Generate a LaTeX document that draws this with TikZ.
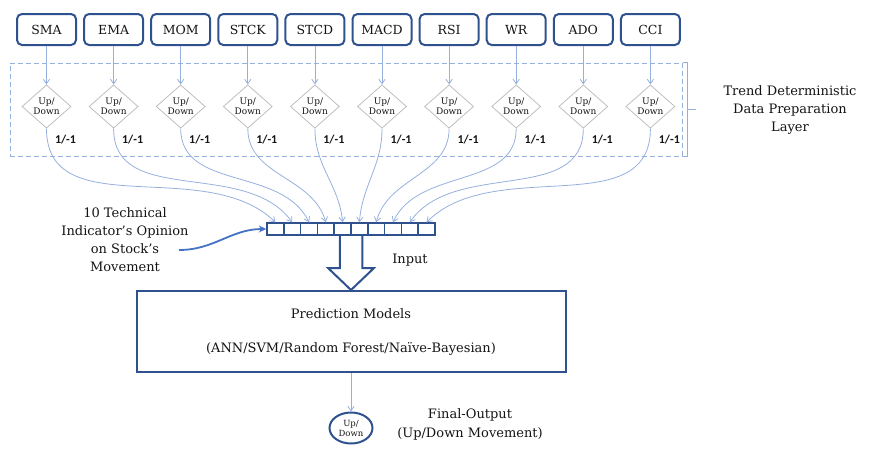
\documentclass[tikz,border=0pt]{standalone}
\usepackage{fontspec}
\setmainfont{DejaVu Serif}
\newfontfamily\voteFont{Carlito}
\usetikzlibrary{arrows.meta,positioning,shapes.geometric,calc}
\definecolor{trendDarkBlue}{RGB}{47,82,143}
\definecolor{trendBlue}{RGB}{68,114,196}
\definecolor{trendLightBlue}{RGB}{150,176,222}
\definecolor{trendGray}{RGB}{190,190,190}
\definecolor{trendText}{RGB}{20,20,20}

\begin{document}
\begin{tikzpicture}[
  x=1pt, y=1pt,
  indicator/.style={
    draw=trendDarkBlue,
    line width=2pt,
    rounded corners=5pt,
    minimum width=59pt,
    minimum height=31pt,
    inner sep=0pt,
    text=trendText,
    font=\fontsize{12.5}{14}\selectfont
  },
  decision/.style={
    diamond,
    draw=trendGray,
    line width=0.8pt,
    minimum width=49pt,
    minimum height=43pt,
    inner sep=0pt,
    align=center,
    text=trendText,
    font=\fontsize{9}{10.5}\selectfont
  },
  vote/.style={text=trendText,font=\voteFont\bfseries\fontsize{12}{14}\selectfont},
  cell/.style={draw=trendDarkBlue,line width=1.5pt,minimum width=16.8pt,minimum height=12pt,inner sep=0pt},
  model/.style={
    draw=trendDarkBlue,
    line width=2pt,
    minimum width=429pt,
    minimum height=81pt,
    align=center,
    text=trendText,
    font=\fontsize{13}{16}\selectfont
  },
  result/.style={
    ellipse,
    draw=trendDarkBlue,
    line width=2pt,
    minimum width=43pt,
    minimum height=31pt,
    inner sep=0pt,
    align=center,
    text=trendText,
    font=\fontsize{8.5}{10}\selectfont
  },
  caption/.style={align=center,text=trendText,font=\fontsize{13}{18}\selectfont},
  layer/.style={draw=trendLightBlue,dash pattern=on 5pt off 3pt,line width=1pt,minimum width=672pt,minimum height=93pt},
  arrow/.style={-{Straight Barb[length=1.6mm,width=2.2mm]},trendLightBlue,line width=0.8pt},
  opinion/.style={-{Stealth[length=2.6mm,width=2.4mm]},trendBlue,line width=1.8pt},
  hollow/.style={draw=trendDarkBlue,line width=2pt,line join=miter}
]
  \useasboundingbox (0,0) rectangle (872,-461);

  % data preparation layer
  \node[layer] (layer) at (346,-109.5) {};
  \draw[trendLightBlue,line width=1pt] (layer.north east) -- ++(5,0) |- (layer.south east);
  \draw[trendLightBlue,line width=1pt] ($(layer.east)+(5,0)$) -- ++(8,0);
  \node[caption] (layerText) at (790,-110) {Trend Deterministic\\Data Preparation\\Layer};

  % indicators and their up/down opinion
  \foreach \abbr [count=\i] in {SMA,EMA,MOM,STCK,STCD,MACD,RSI,WR,ADO,CCI}{
    \node[indicator] (ind\i) at ({46.5+67.1*(\i-1)},-29.5) {\abbr};
    \node[decision] (dec\i) at ({46.5+67.1*(\i-1)},-106.5) {Up/\\Down};
    \node[vote] (vote\i) at ($(dec\i)+(19,-33.5)$) {1/-1};
    \draw[arrow] (ind\i) -- (dec\i);
  }

  % input vector
  \foreach \i in {1,...,10}
    \node[cell] (cell\i) at ({267+16.8*(\i-0.5)},-229) {};
  \foreach \i in {1,...,10}{
    \pgfmathsetmacro\inAngle{90+0.2*(228.9-50.3*(\i-1))}
    \draw[arrow] (dec\i.south) to[out=-90,in=\inAngle] (cell\i.north);
  }

  \node[caption] (opinionText) at (125,-240) {10 Technical\\Indicator's Opinion\\on Stock's\\Movement};
  \coordinate (opinionTail) at (179,-250);
  \draw[opinion] (opinionTail) to[out=0,in=180] (cell1.west);
  \node[caption] (inputText) at (410,-260) {Input};

  % prediction and output
  \node[model] (models) at (351,-331.5) {Prediction Models\\[18pt](ANN/SVM/Random Forest/Naïve-Bayesian)};
  \draw[hollow] ($(cell5.south east)+(-12,0)$) |- ($(models.north)+(-23,22)$) -- (models.north)
    -- ($(models.north)+(23,22)$) -| ($(cell6.south west)+(12,0)$);
  \node[result] (final) at (351,-428) {Up/\\Down};
  \draw[arrow] (models) -- (final);
  \node[caption,font=\fontsize{13}{19}\selectfont] (finalText) at (470,-424) {Final-Output\\(Up/Down Movement)};
\end{tikzpicture}
\end{document}
